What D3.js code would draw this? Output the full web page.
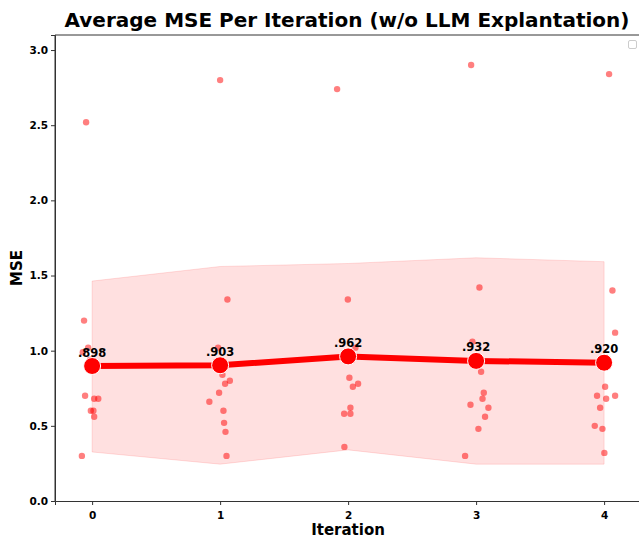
<!DOCTYPE html>
<html><head><meta charset="utf-8">
<script src="https://cdn.jsdelivr.net/npm/d3@7"></script>
<style>body{margin:0;background:#fff}svg{display:block}text{font-family:"DejaVu Sans",sans-serif}</style>
</head><body><div id="chart"></div>
<script>
const iterations = [0, 1, 2, 3, 4];
const meanMSE = [0.898, 0.903, 0.962, 0.932, 0.920];
const meanLabels = [".898", ".903", ".962", ".932", ".920"];
const bandUpper = [1.463, 1.560, 1.580, 1.618, 1.592];
const bandLower = [0.326, 0.245, 0.340, 0.245, 0.245];
// individual points: iteration, jitter, MSE
const pointIter = [0,0,0,0,0,0,0,0,0,0,0,0, 1,1,1,1,1,1,1,1,1,1,1,1, 2,2,2,2,2,2,2,2,2,2,2,2, 3,3,3,3,3,3,3,3,3,3,3,3, 4,4,4,4,4,4,4,4,4,4,4,4];
const pointJitter = [-0.047,-0.063,-0.031,-0.073,-0.016,-0.055,0.016,0.048,-0.010,0.010,0.016,-0.080,
  0.000,0.057,-0.016,0.018,0.039,0.076,-0.008,-0.084,0.026,0.031,0.042,0.050,
  -0.086,-0.002,0.057,0.010,0.037,0.078,0.018,-0.031,0.018,-0.029,-0.020,0.015,
  -0.039,0.026,-0.029,0.039,0.060,0.050,-0.044,0.096,0.070,0.018,-0.086,0.020,
  0.039,0.065,0.086,0.008,-0.055,0.016,0.086,-0.031,-0.073,-0.013,0.002,-0.010];
const pointMSE = [2.52,1.20,1.02,0.99,0.94,0.70,0.68,0.68,0.60,0.60,0.56,0.30,
  2.80,1.34,1.02,0.84,0.78,0.80,0.72,0.66,0.60,0.52,0.46,0.30,
  2.74,1.34,1.02,0.82,0.76,0.78,0.62,0.58,0.58,0.36,0.95,0.99,
  2.90,1.42,1.06,0.86,0.72,0.68,0.64,0.62,0.56,0.48,0.30,0.94,
  2.84,1.40,1.12,0.76,0.70,0.68,0.70,0.62,0.50,0.48,0.32,0.92];
const yTicks = [0, 0.5, 1.0, 1.5, 2.0, 2.5, 3.0];
const titleText = "Average MSE Per Iteration (w/o LLM Explantation)";

const W = 639, H = 544;
const svg = d3.select("#chart").append("svg").attr("width", W).attr("height", H);
const x = d3.scaleLinear().domain([-0.29, 4.3]).range([55, 642.5]);
const y = d3.scaleLinear().domain([0, 3.1]).range([501, 35]);

// band
const area = d3.area().x((d,i)=>x(iterations[i])).y0((d,i)=>y(bandLower[i])).y1((d,i)=>y(bandUpper[i]));
svg.append("path").datum(iterations).attr("d", area)
  .attr("fill", "#ff0000").attr("fill-opacity", 0.12)
  .attr("stroke", "#ff0000").attr("stroke-opacity", 0.12).attr("stroke-width", 1);

// points
svg.append("g").selectAll("circle").data(pointMSE).join("circle")
  .attr("cx", (d,i)=>x(pointIter[i] + pointJitter[i]))
  .attr("cy", d=>y(d)).attr("r", 3.2)
  .attr("fill", "#ff0000").attr("fill-opacity", 0.5);

// mean line
const line = d3.line().x((d,i)=>x(iterations[i])).y(d=>y(d));
svg.append("path").datum(meanMSE).attr("d", line)
  .attr("fill", "none").attr("stroke", "#ff0000").attr("stroke-width", 6).attr("stroke-linejoin","round");
svg.append("g").selectAll("circle").data(meanMSE).join("circle")
  .attr("cx", (d,i)=>x(iterations[i])).attr("cy", d=>y(d)).attr("r", 8.5)
  .attr("fill", "#ff0000").attr("stroke", "#fff").attr("stroke-width", 1);
svg.append("g").selectAll("text").data(meanMSE).join("text")
  .attr("x", (d,i)=>x(iterations[i])).attr("y", d=>y(d) - 9.5)
  .attr("text-anchor", "middle").attr("font-size", 11.5).attr("font-weight", "bold")
  .attr("fill", "#000").text((d,i)=>meanLabels[i]);

// axes
const xAxis = svg.append("g").attr("transform", "translate(0,501)")
  .call(d3.axisBottom(x).tickValues(iterations).tickFormat(d3.format("d")).tickSizeOuter(0).tickSize(4));
const yAxis = svg.append("g").attr("transform", "translate(55,0)")
  .call(d3.axisLeft(y).tickValues(yTicks).tickFormat(d3.format(".1f")).tickSizeOuter(0).tickSize(4));
[xAxis, yAxis].forEach(g => {
  g.selectAll("text").attr("font-size", 10.5).attr("font-weight", "bold").attr("fill", "#000")
    .attr("font-family", "DejaVu Sans, sans-serif");
  g.selectAll("line").attr("stroke", "#333");
  g.select(".domain").attr("stroke", "#333");
});
xAxis.selectAll("text").attr("dy", "1.05em");
// top spine
svg.append("line").attr("x1", 55).attr("x2", 642).attr("y1", 35).attr("y2", 35).attr("stroke", "#333");
svg.append("line").attr("x1", 55).attr("x2", 55).attr("y1", 35).attr("y2", 501).attr("stroke", "#333");

// legend box (empty)
svg.append("rect").attr("x", 628.5).attr("y", 40.5).attr("width", 8).attr("height", 8).attr("rx", 1.5)
  .attr("fill", "#fff").attr("stroke", "#ccc");

// labels
svg.append("text").attr("x", 347).attr("y", 27).attr("text-anchor", "middle")
  .attr("font-size", 20).attr("font-weight", "bold").text(titleText);
svg.append("text").attr("x", 348).attr("y", 535).attr("text-anchor", "middle")
  .attr("font-size", 15).attr("font-weight", "bold").text("Iteration");
svg.append("text").attr("transform", "translate(22,268) rotate(-90)").attr("text-anchor", "middle")
  .attr("font-size", 15).attr("font-weight", "bold").text("MSE");
</script></body></html>
